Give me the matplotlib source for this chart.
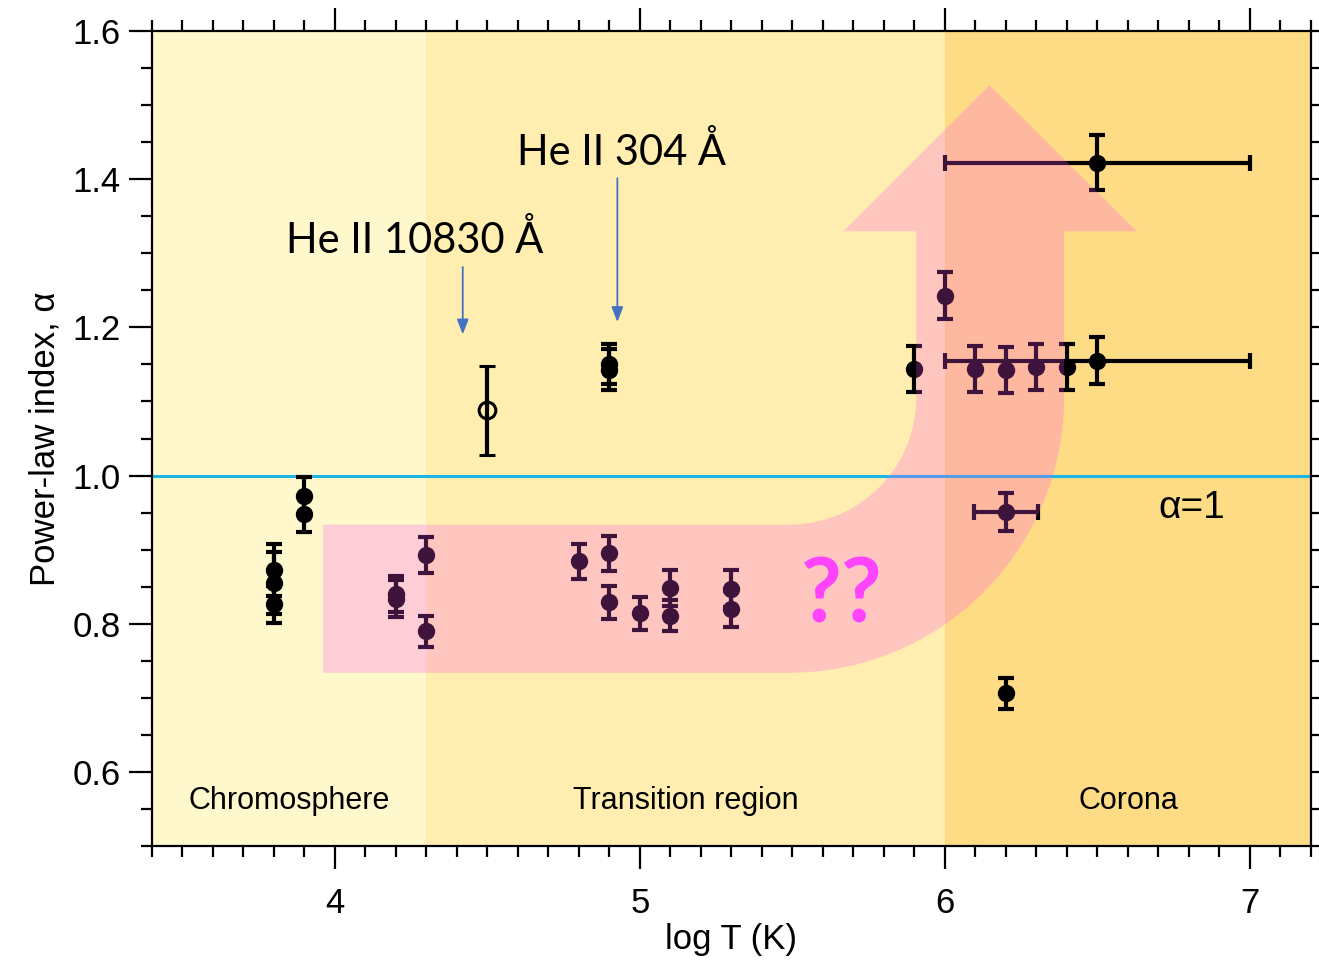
import numpy as np
import matplotlib
matplotlib.use("Agg")
import matplotlib.pyplot as plt
from matplotlib.patches import Polygon
from matplotlib.ticker import MultipleLocator, FormatStrFormatter

plt.rcParams['font.family'] = ['Liberation Sans', 'DejaVu Sans']

# power-law index vs formation temperature (y error bars only)
logT = [3.8, 3.8, 3.8, 3.9, 3.9, 4.2, 4.2, 4.3, 4.3, 4.8,
        4.9, 4.9, 4.9, 4.9, 5.0, 5.1, 5.1, 5.3, 5.3,
        5.9, 6.0, 6.1, 6.2, 6.3, 6.4, 6.2]
alpha = [0.873, 0.855, 0.826, 0.973, 0.948, 0.840, 0.834, 0.893, 0.790, 0.884,
         1.150, 1.143, 0.895, 0.829, 0.814, 0.848, 0.811, 0.847, 0.820,
         1.144, 1.243, 1.144, 1.143, 1.146, 1.146, 0.706]
alpha_err = [0.035, 0.042, 0.025, 0.025, 0.024, 0.024, 0.025, 0.024, 0.021, 0.024,
             0.027, 0.028, 0.024, 0.022, 0.022, 0.024, 0.021, 0.025, 0.024,
             0.031, 0.032, 0.031, 0.031, 0.031, 0.031, 0.021]

# points with a temperature range as well
logT_rng = [6.5, 6.5, 6.2]
logT_rng_err = [0.5, 0.5, 0.105]
alpha_rng = [1.155, 1.422, 0.951]
alpha_rng_err = [0.032, 0.037, 0.026]

# He II 10830 (open symbol)
logT_open = [4.5]
alpha_open = [1.088]
alpha_open_err = [0.06]

# temperature regions
region_edges = [3.4, 4.3, 6.0, 7.2]
region_names = ['Chromosphere', 'Transition region', 'Corona']
region_colors = ['#FFF8CC', '#FFEEB0', '#FEDB85']
region_label_x = [3.85, 5.15, 6.6]

fig = plt.figure(figsize=(13.19, 9.63), dpi=100)
ax = fig.add_axes([0.1152, 0.1215, 0.8787, 0.8463])

for i in range(3):
    ax.axvspan(region_edges[i], region_edges[i + 1], color=region_colors[i], lw=0, zorder=0)
    ax.text(region_label_x[i], 0.561, region_names[i], ha='center', va='center',
            fontsize=22, zorder=6)

ax.axhline(1.0, color='#1BB5E6', lw=2.2, zorder=1)

eb = dict(fmt='o', color='k', ms=11.5, elinewidth=3.0, capsize=5.5, capthick=3.0, zorder=3)
ax.errorbar(logT, alpha, yerr=alpha_err, **eb)
ax.errorbar(logT_rng, alpha_rng, xerr=logT_rng_err, yerr=alpha_rng_err, **eb)
ax.errorbar(logT_open, alpha_open, yerr=alpha_open_err, fmt='o', mfc='none', mec='k',
            mew=2.2, color='k', ms=12, elinewidth=3.0, capsize=5.5, capthick=3.0, zorder=3)

# big translucent bent arrow
cx, cy = 5.490, 1.1054
rx_out, ry_out = 0.9008, 0.3716
rx_in, ry_in = 0.416, 0.1716
t_out = np.linspace(-np.pi / 2, 0, 60)
t_in = np.linspace(0, -np.pi / 2, 60)
pts = [(3.961, cy - ry_out)]
pts += list(zip(cx + rx_out * np.cos(t_out), cy + ry_out * np.sin(t_out)))
pts += [(cx + rx_out, 1.3297), (6.629, 1.3297), (6.146, 1.527),
        (5.667, 1.3297), (cx + rx_in, 1.3297)]
pts += list(zip(cx + rx_in * np.cos(t_in), cy + ry_in * np.sin(t_in)))
pts += [(3.961, cy - ry_in)]
ax.add_patch(Polygon(pts, closed=True, facecolor='#FF50F0', alpha=0.25, lw=0, zorder=4))

# line labels with pointers
ax.text(3.840, 1.300, 'He II 10830 Å', fontsize=30, family=['Lato', 'DejaVu Sans'],
        ha='left', va='baseline', zorder=6)
ax.text(4.596, 1.419, 'He II 304 Å', fontsize=30, family=['Lato', 'DejaVu Sans'],
        ha='left', va='baseline', zorder=6)
arrow_kw = dict(arrowstyle='-|>,head_length=0.9,head_width=0.35', color='#4472C4', lw=1.3,
                shrinkA=0, shrinkB=0)
ax.annotate('', xy=(4.419, 1.1905), xytext=(4.419, 1.2815), arrowprops=arrow_kw, zorder=6)
ax.annotate('', xy=(4.926, 1.2072), xytext=(4.926, 1.4014), arrowprops=arrow_kw, zorder=6)

ax.text(5.660, 0.8014, '??', fontsize=64, fontweight='bold', color='#FF44FF',
        family=['Lato', 'DejaVu Sans'], ha='center', va='baseline', zorder=6)
ax.text(6.81, 0.943, 'α=1', fontsize=28, ha='center', va='baseline', zorder=6)

ax.set_xlim(3.4, 7.2)
ax.set_ylim(0.5, 1.6)
ax.xaxis.set_major_locator(MultipleLocator(1))
ax.xaxis.set_minor_locator(MultipleLocator(0.1))
ax.yaxis.set_major_locator(MultipleLocator(0.2))
ax.yaxis.set_minor_locator(MultipleLocator(0.05))
ax.yaxis.set_major_formatter(FormatStrFormatter('%.1f'))
ax.tick_params(which='both', direction='out', top=True, right=True, width=1.6,
               labelsize=25)
ax.tick_params(which='major', length=16.5)
ax.tick_params(which='minor', length=8)
ax.tick_params(axis='x', which='major', pad=13)
ax.tick_params(axis='y', which='major', pad=6)
for s in ax.spines.values():
    s.set_linewidth(1.6)

ax.set_xlabel('log T (K)', fontsize=25, labelpad=2)
ax.set_ylabel('Power-law index, α', fontsize=25, labelpad=8)

fig.savefig('out.png', dpi=100)
